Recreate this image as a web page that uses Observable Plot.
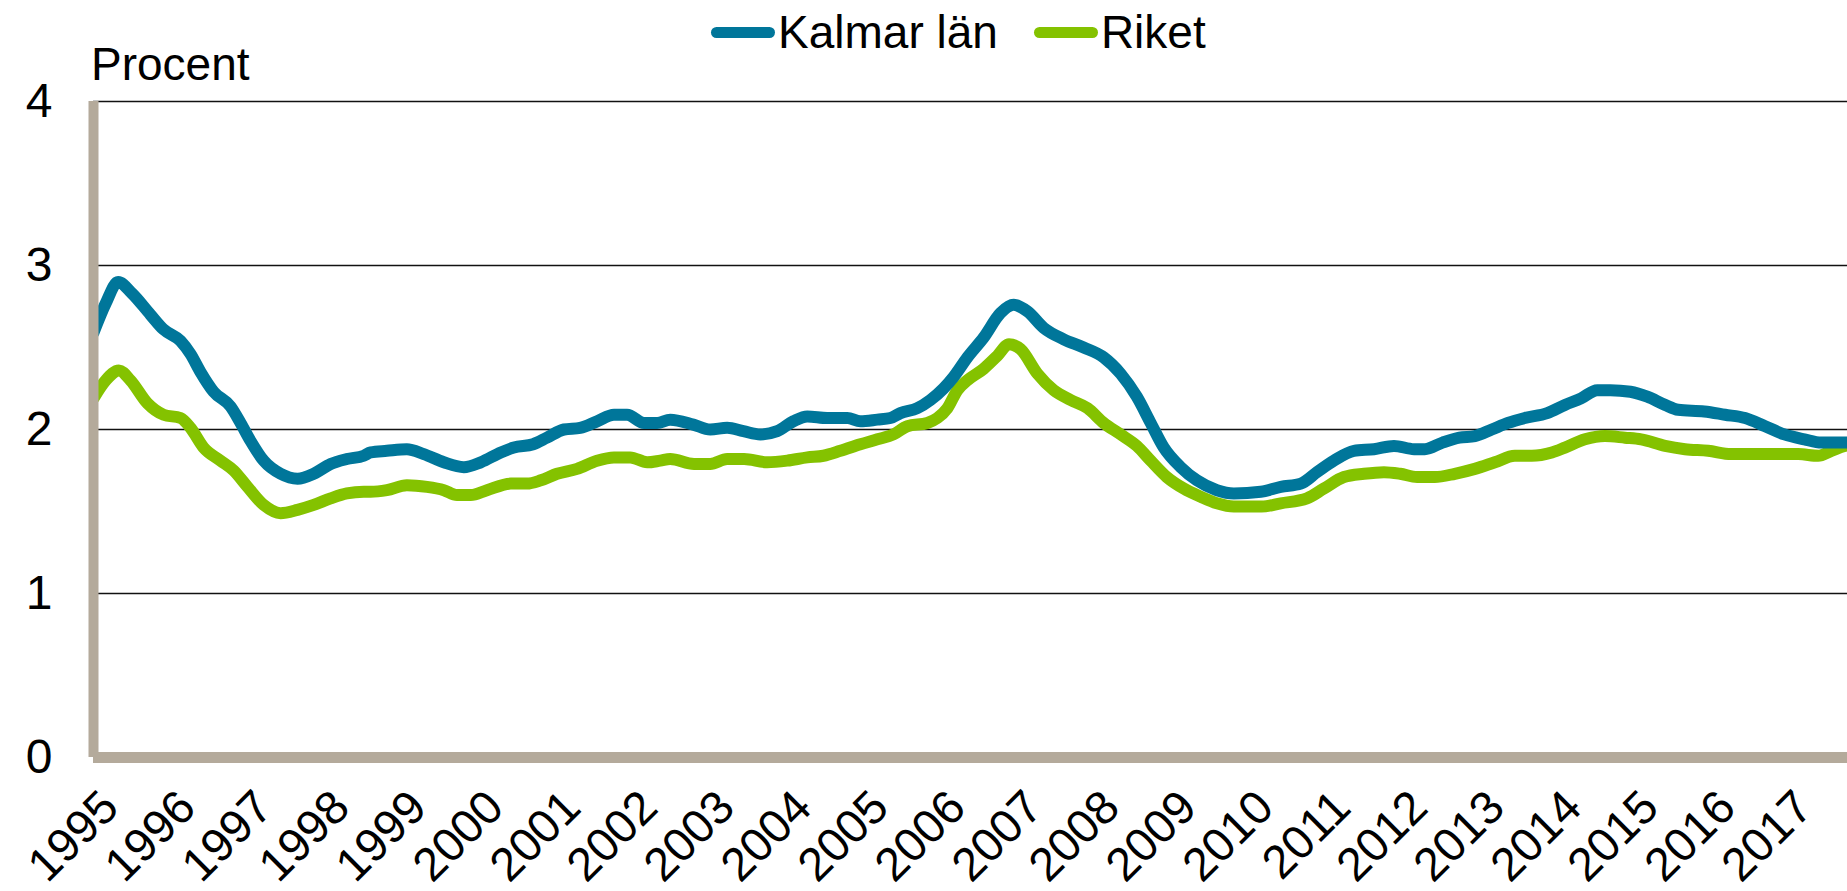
<!DOCTYPE html>
<html>
<head>
<meta charset="utf-8">
<script src="https://cdn.jsdelivr.net/npm/d3@7"></script>
<script src="https://cdn.jsdelivr.net/npm/@observablehq/plot@0.6"></script>
<style>
  body { margin: 0; background: #fff; font-family: "Liberation Sans", Arial, sans-serif; }
  #wrap { position: relative; width: 1847px; height: 891px; overflow: hidden; background: #fff; }
  #head { height: 60px; }
  #legend { position: absolute; left: 711px; top: 9px; display: flex; align-items: center; font-size: 46px; line-height: 1; color: #000; z-index: 2; }
  .item { display: flex; align-items: center; margin-right: 36px; }
  .sw { width: 64px; height: 11px; border-radius: 6px; margin-right: 3px; }
  #ylabel { position: absolute; left: 91px; top: 41px; font-size: 46px; line-height: 1; color: #000; z-index: 2; }
  svg { display: block; }
</style>
</head>
<body>
<div id="wrap">
  <div id="head"></div>
  <div id="legend"></div>
  <div id="ylabel">Procent</div>
  <div id="chart"></div>
</div>
<script>
// ---- Data ----
const seriesNames = ["Kalmar län", "Riket"];
const seriesColors = ["#00769a", "#84c200"];

const yearTicks = [1995, 1996, 1997, 1998, 1999, 2000, 2001, 2002, 2003, 2004, 2005, 2006,
  2007, 2008, 2009, 2010, 2011, 2012, 2013, 2014, 2015, 2016, 2017];
const yTicks = [0, 1, 2, 3, 4];

const kalmarYear = [1995.00, 1995.16, 1995.32, 1995.50, 1995.74, 1995.91, 1996.13, 1996.26, 1996.39, 1996.56,
  1996.78, 1996.91, 1997.04, 1997.21, 1997.43, 1997.65, 1997.86, 1998.08, 1998.29, 1998.51,
  1998.60, 1998.81, 1999.07, 1999.29, 1999.55, 1999.81, 2000.03, 2000.29, 2000.46, 2000.71,
  2000.89, 2001.11, 2001.32, 2001.54, 2001.76, 2001.93, 2002.15, 2002.32, 2002.49, 2002.79,
  2003.01, 2003.23, 2003.44, 2003.66, 2003.88, 2004.09, 2004.27, 2004.53, 2004.79, 2004.96,
  2005.18, 2005.35, 2005.48, 2005.70, 2005.87, 2006.04, 2006.17, 2006.35, 2006.56, 2006.78,
  2006.95, 2007.13, 2007.34, 2007.60, 2007.86, 2008.12, 2008.34, 2008.55, 2008.73, 2008.90,
  2009.12, 2009.33, 2009.59, 2009.81, 2010.16, 2010.42, 2010.68, 2010.89, 2011.11, 2011.37,
  2011.63, 2011.89, 2012.15, 2012.29, 2012.52, 2012.74, 2012.94, 2013.16, 2013.37, 2013.59,
  2013.88, 2014.11, 2014.32, 2014.53, 2014.70, 2014.96, 2015.18, 2015.41, 2015.58, 2015.92,
  2016.19, 2016.45, 2016.71, 2016.96, 2017.22, 2017.44, 2017.74, 2017.83];
const kalmarValue = [2.59, 2.77, 2.90, 2.83, 2.70, 2.61, 2.54, 2.46, 2.35, 2.23,
  2.14, 2.04, 1.93, 1.81, 1.73, 1.70, 1.73, 1.79, 1.82, 1.84,
  1.86, 1.87, 1.88, 1.85, 1.80, 1.77, 1.80, 1.86, 1.89, 1.91,
  1.95, 2.00, 2.01, 2.05, 2.09, 2.09, 2.04, 2.04, 2.06, 2.03,
  2.00, 2.01, 1.99, 1.97, 1.99, 2.05, 2.08, 2.07, 2.07, 2.05,
  2.06, 2.07, 2.10, 2.13, 2.18, 2.25, 2.32, 2.44, 2.56, 2.71,
  2.76, 2.72, 2.62, 2.55, 2.50, 2.44, 2.34, 2.20, 2.04, 1.89,
  1.77, 1.69, 1.63, 1.61, 1.62, 1.65, 1.67, 1.74, 1.81, 1.87,
  1.88, 1.90, 1.88, 1.88, 1.92, 1.95, 1.96, 2.00, 2.04, 2.07,
  2.10, 2.15, 2.19, 2.24, 2.24, 2.23, 2.20, 2.15, 2.12, 2.11,
  2.09, 2.07, 2.02, 1.97, 1.94, 1.92, 1.92, 1.92];

const riketYear = [1995.00, 1995.16, 1995.33, 1995.48, 1995.70, 1995.91, 1996.13, 1996.26, 1996.43, 1996.65,
  1996.82, 1997.00, 1997.21, 1997.43, 1997.65, 1997.86, 1998.08, 1998.29, 1998.51, 1998.60,
  1998.81, 1999.07, 1999.33, 1999.55, 1999.72, 1999.90, 2000.11, 2000.42, 2000.63, 2000.81,
  2001.02, 2001.28, 2001.54, 2001.76, 2001.97, 2002.19, 2002.36, 2002.49, 2002.80, 2003.01,
  2003.23, 2003.45, 2003.75, 2004.01, 2004.27, 2004.48, 2004.70, 2004.96, 2005.18, 2005.39,
  2005.57, 2005.83, 2005.96, 2006.09, 2006.22, 2006.35, 2006.56, 2006.74, 2006.89, 2007.04,
  2007.26, 2007.47, 2007.69, 2007.91, 2008.12, 2008.34, 2008.55, 2008.73, 2008.94, 2009.16,
  2009.38, 2009.59, 2009.81, 2010.17, 2010.42, 2010.76, 2010.98, 2011.24, 2011.50, 2011.76,
  2011.97, 2012.19, 2012.42, 2012.68, 2012.94, 2013.20, 2013.46, 2013.68, 2013.94, 2014.11,
  2014.37, 2014.63, 2014.89, 2015.10, 2015.41, 2015.67, 2015.97, 2016.27, 2016.71, 2017.14,
  2017.40, 2017.57, 2017.74, 2017.83];
const riketValue = [2.19, 2.30, 2.36, 2.30, 2.16, 2.09, 2.07, 2.01, 1.89, 1.81,
  1.75, 1.65, 1.54, 1.49, 1.51, 1.54, 1.58, 1.61, 1.62, 1.62,
  1.63, 1.66, 1.65, 1.63, 1.60, 1.60, 1.63, 1.67, 1.67, 1.69,
  1.73, 1.76, 1.81, 1.83, 1.83, 1.80, 1.81, 1.82, 1.79, 1.79,
  1.82, 1.82, 1.80, 1.81, 1.83, 1.84, 1.87, 1.91, 1.94, 1.97,
  2.02, 2.04, 2.07, 2.13, 2.24, 2.30, 2.37, 2.45, 2.52, 2.49,
  2.34, 2.24, 2.18, 2.13, 2.04, 1.97, 1.90, 1.81, 1.71, 1.64,
  1.59, 1.55, 1.53, 1.53, 1.55, 1.58, 1.64, 1.71, 1.73, 1.74,
  1.73, 1.71, 1.71, 1.73, 1.76, 1.80, 1.84, 1.84, 1.86, 1.89,
  1.94, 1.96, 1.95, 1.94, 1.90, 1.88, 1.87, 1.85, 1.85, 1.85,
  1.84, 1.87, 1.90, 1.91];

const xDomain = [1995, 2017.78];

// ---- Build tables ----
const kalmar = kalmarYear.map((x, i) => ({year: x, value: kalmarValue[i]}));
const riket = riketYear.map((x, i) => ({year: x, value: riketValue[i]}));

// ---- Legend ----
const legend = document.getElementById("legend");
seriesNames.forEach((name, i) => {
  const item = document.createElement("div");
  item.className = "item";
  const sw = document.createElement("div");
  sw.className = "sw";
  sw.style.background = seriesColors[i];
  const label = document.createElement("span");
  label.textContent = name;
  item.appendChild(sw);
  item.appendChild(label);
  legend.appendChild(item);
});

const axisColor = "#b4aa9b";
const font = "'Liberation Sans', Arial, Helvetica, sans-serif";

const chart = Plot.plot({
  width: 1847,
  height: 831,
  marginTop: 41,
  marginBottom: 134,
  marginLeft: 93,
  marginRight: 0,
  style: {fontFamily: font, fontSize: "48px", color: "#000", background: "transparent", overflow: "visible"},
  x: {domain: xDomain, axis: null},
  y: {domain: [0, 4], axis: null},
  marks: [
    Plot.ruleY(yTicks.filter(d => d > 0), {stroke: "#111", strokeWidth: 1.4}),
    Plot.line(riket, {x: "year", y: "value", stroke: seriesColors[1], strokeWidth: 12, curve: "monotone-x", strokeLinejoin: "round", clip: true}),
    Plot.line(kalmar, {x: "year", y: "value", stroke: seriesColors[0], strokeWidth: 12, curve: "monotone-x", strokeLinejoin: "round", clip: true}),
    Plot.ruleY([0], {stroke: axisColor, strokeWidth: 11}),
    Plot.ruleX([xDomain[0]], {y1: 0, y2: 4, stroke: axisColor, strokeWidth: 10}),
    Plot.axisY(yTicks, {tickSize: 0, tickPadding: 41, fontSize: 48, label: null, tickFormat: d => String(d)}),
    Plot.text(yearTicks, {x: d => d, text: d => String(d), frameAnchor: "bottom", rotate: -45,
      textAnchor: "end", lineAnchor: "top", dx: 4, dy: 29, fontSize: 47, fill: "#000"})
  ]
});
document.getElementById("chart").appendChild(chart);
</script>
</body>
</html>
